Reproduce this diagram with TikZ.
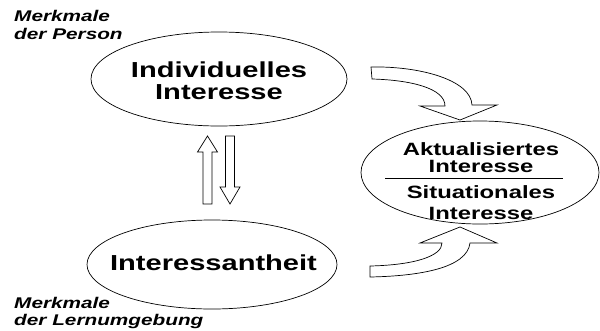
\documentclass[tikz,border=0pt]{standalone}
\usepackage{fontspec}
\setmainfont{Liberation Sans}
\newfontfamily\wide[FakeStretch=1.34]{Liberation Sans}
\usetikzlibrary{shapes.geometric}
\begin{document}
\begin{tikzpicture}[x=1pt,y=-1pt,
  ell/.style={draw, ellipse, line width=0.7pt, inner sep=0pt},
  big/.style={font=\wide\bfseries\fontsize{21.7}{24}\selectfont, inner sep=0pt, anchor=base},
  mid/.style={font=\wide\bfseries\fontsize{17.8}{20}\selectfont, inner sep=0pt, anchor=base},
  lab/.style={font=\wide\bfseries\itshape\fontsize{15.5}{18}\selectfont, inner sep=0pt, anchor=base west},
  blk/.style={draw, fill=white, line width=0.7pt, line join=miter}]
\useasboundingbox (0,0) rectangle (600,330);

% ellipses
\node[ell, minimum width=256pt, minimum height=94pt] (ind) at (219,79) {};
\node[ell, minimum width=250pt, minimum height=89pt] (ia) at (212,264.5) {};
\node[ell, minimum width=238pt, minimum height=103pt] (akt) at (480,172.5) {};

% texts
\node[big] (t1) at (219,77) {Individuelles};
\node[big] (t2) at (219,99) {Interesse};
\node[big] (t3) at (213.5,270) {Interessantheit};
\node[mid] (t4) at (481,155) {Aktualisiertes};
\node[mid] (t5) at (481,172) {Interesse};
\node[mid] (t6) at (481,198) {Situationales};
\node[mid] (t7) at (481,219) {Interesse};
\draw[line width=0.7pt] (385,178) -- (563,178);

\node[lab] (l1) at (14,21) {Merkmale};
\node[lab] (l2) at (14,39) {der Person};
\node[lab] (l3) at (14,308) {Merkmale};
\node[lab] (l4) at (14,325) {der Lernumgebung};

% vertical block arrows
\draw[blk] (203,204) -- (203,152) -- (197.5,152) -- (207.5,136) -- (217.5,152) -- (212,152) -- (212,204) -- cycle;
\draw[blk] (225.5,136) -- (225.5,187) -- (220,187) -- (230,204) -- (240,187) -- (234.5,187) -- (234.5,136) -- cycle;

% curved block arrows
\draw[blk] (371,67) .. controls (420,66) and (471,80) .. (472,105)
  -- (497,105) -- (460,120) -- (420,106) -- (445,106)
  .. controls (445,88) and (410,80) .. (372,79) -- cycle;
\draw[blk] (370,266) .. controls (415,265) and (442,256) .. (442,243)
  -- (420,243) -- (460,227) -- (497,243) -- (470,243)
  .. controls (467,268) and (420,276) .. (370,277) -- cycle;
\end{tikzpicture}
\end{document}
